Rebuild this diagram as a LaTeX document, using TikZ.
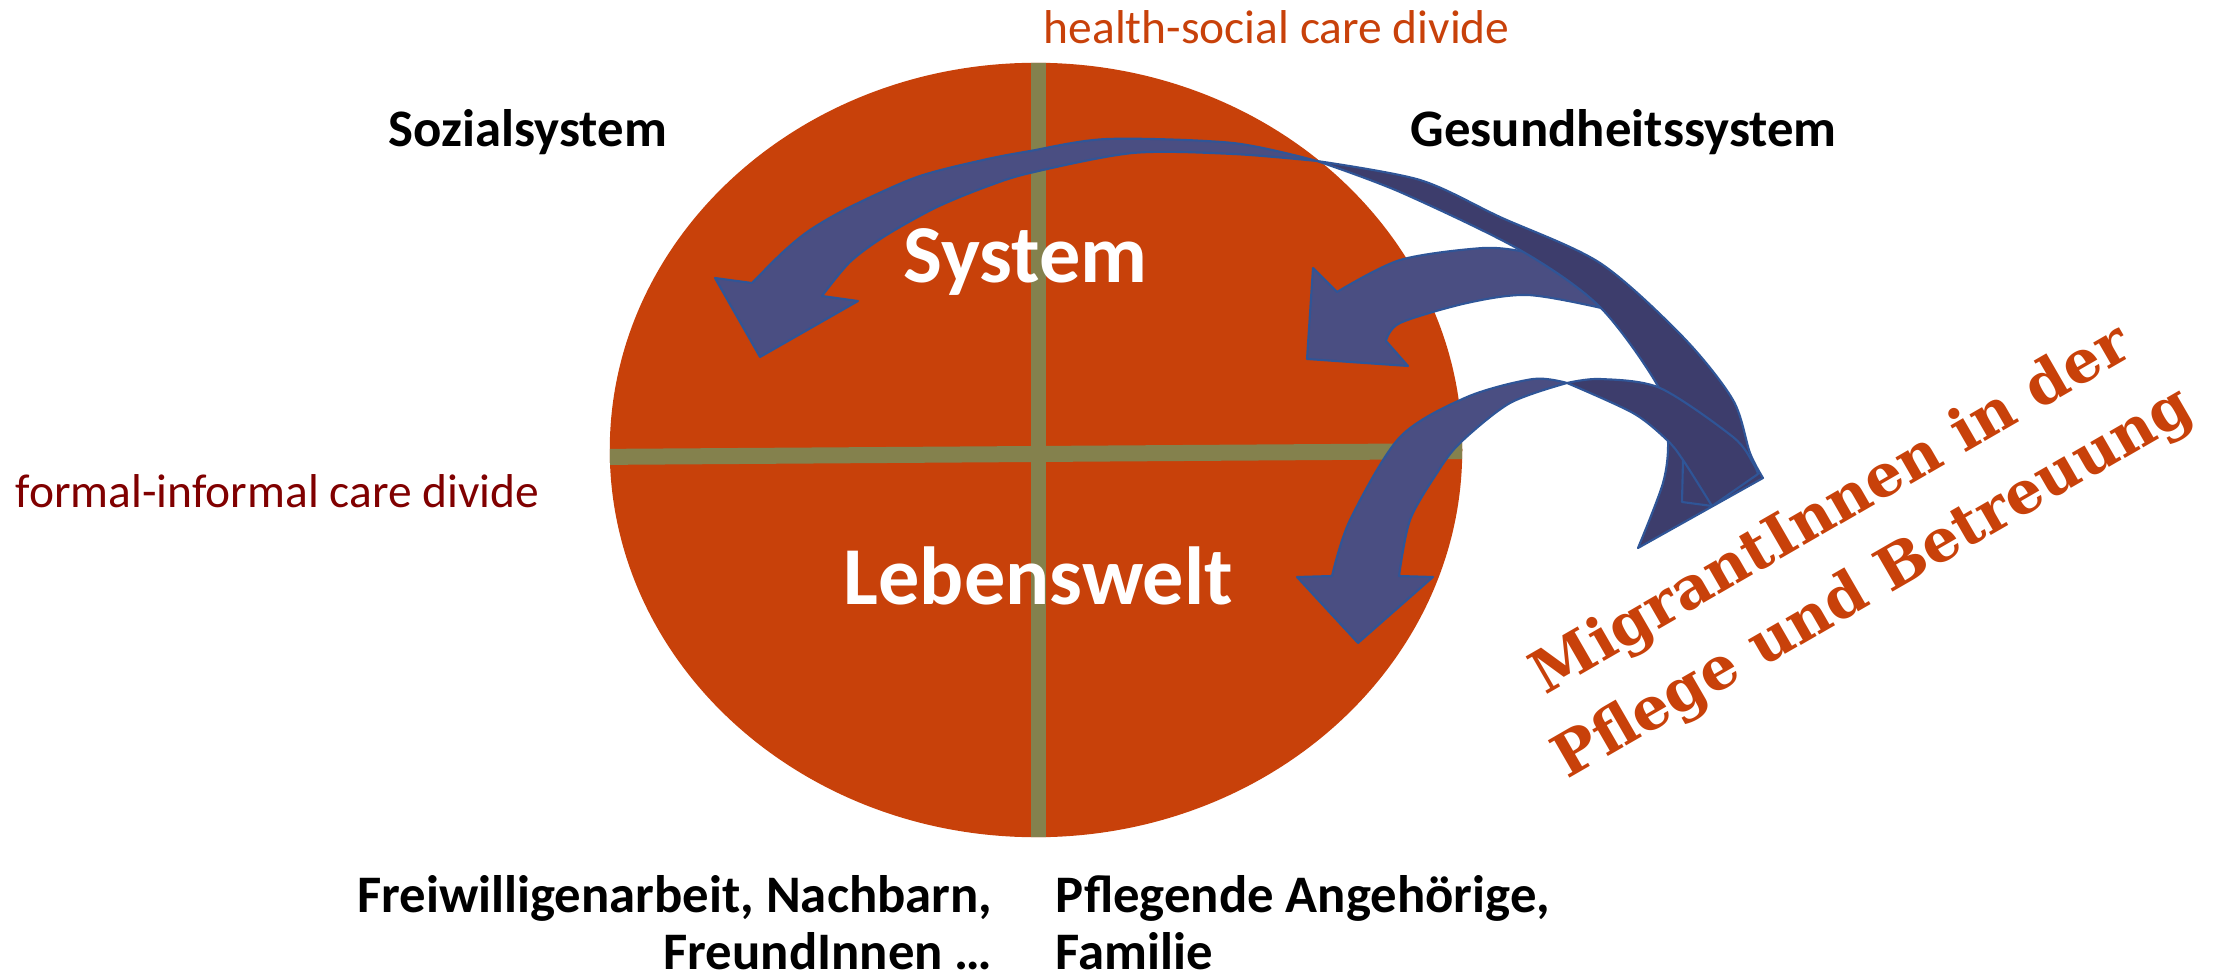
\documentclass[tikz,border=0pt]{standalone}
\usepackage{fontspec}
\newfontfamily\calibri{Carlito}
\newfontfamily\slabserif{DejaVu Serif}
\definecolor{ovalred}{HTML}{C8410A}
\definecolor{divideline}{HTML}{84814D}
\definecolor{arrowfront}{HTML}{4A4E82}
\definecolor{arrowback}{HTML}{3D3D6C}
\definecolor{arrowedge}{HTML}{2F5597}
\definecolor{darkred}{HTML}{800000}
\tikzset{
  sectorlabel/.style={font=\calibri\bfseries\fontsize{15}{16}\selectfont, inner sep=0pt},
  dividelabel/.style={font=\calibri\fontsize{13.5}{15}\selectfont, inner sep=0pt},
  worldlabel/.style={font=\calibri\bfseries\fontsize{23.4}{26}\selectfont, text=white, inner sep=0pt},
  arrowlight/.style={fill=arrowfront, draw=arrowedge, line width=0.6pt, line join=round},
  arrowdark/.style={fill=arrowback, draw=arrowedge, line width=0.6pt, line join=round},
}
\begin{document}
\begin{tikzpicture}[x=0.01cm, y=-0.01cm]
\useasboundingbox (0,0) rectangle (2214,979);
\coordinate (c) at (1036,450);
\fill[ovalred] (c) ellipse [x radius=4.26cm, y radius=3.87cm];
\begin{scope}
\clip (c) ellipse [x radius=4.26cm, y radius=3.87cm];
\draw[divideline, line width=0.15cm] (1038,0) -- (1038,900);
\draw[divideline, line width=0.16cm] (590,457) -- (1480,451);
\end{scope}
% middle arrow, tail runs under the big one
\filldraw[arrowlight] (1337,292) -- (1313,268) -- (1307,359) -- (1408,366) -- (1386,341)
  -- plot[smooth] coordinates {(1386,341) (1400,323) (1467,303) (1527,295) (1597,307) (1612,313)}
  -- (1545,256)
  -- plot[smooth] coordinates {(1545,256) (1527,252) (1483,248) (1400,260) (1337,292)} -- cycle;
% big arrow: front half, then its back half
\filldraw[arrowlight] (752,283) -- (715,278) -- (760,357) -- (858,301) -- (822,296)
  -- plot[smooth] coordinates {(822,296) (850,262) (885,236) (935,208) (983,188) (1030,173) (1133,153) (1233,154) (1317,161)}
  -- plot[smooth] coordinates {(1317,161) (1233,143) (1107,139) (1030,151) (983,160) (917,177) (850,207) (810,230) (783,252) (752,283)} -- cycle;
\filldraw[arrowdark] (1317,161)
  -- plot[smooth] coordinates {(1317,161) (1420,180) (1500,217) (1600,263) (1683,337) (1733,400) (1750,453) (1763,478)}
  -- (1638,548)
  -- plot[smooth] coordinates {(1638,548) (1663,483) (1668,440) (1660,390) (1600,307) (1520,250) (1400,192) (1317,161)} -- cycle;
% lower arrow
\filldraw[arrowlight] (1332,576) -- (1297,577) -- (1358,643) -- (1433,577) -- (1399,576)
  -- plot[smooth] coordinates {(1399,576) (1410,520) (1437,473) (1460,443) (1510,403) (1567,383)}
  -- plot[smooth] coordinates {(1567,383) (1533,379) (1467,397) (1400,437) (1350,520) (1332,576)} -- cycle;
\filldraw[arrowdark] (1567,383)
  -- plot[smooth] coordinates {(1567,383) (1600,379) (1660,388) (1733,437) (1753,463) (1758,474)}
  -- (1712,506)
  -- plot[smooth] coordinates {(1712,506) (1683,460) (1667,440) (1633,413) (1567,383)} -- cycle;
\draw[arrowedge, line width=0.6pt, line join=round] (1683,460) -- (1682,502) -- (1712,506);
% labels
\node[worldlabel, anchor=base west] (system) at (903,283) {System};
\node[worldlabel, anchor=base west] (lebenswelt) at (843,604) {Lebenswelt};
\node[sectorlabel, anchor=base west] (sozial) at (388,147) {Sozialsystem};
\node[sectorlabel, anchor=base west] (gesund) at (1410,147) {Gesundheitssystem};
\node[dividelabel, text=ovalred, anchor=base west] (hsdivide) at (1043,44) {health-social care divide};
\node[dividelabel, text=darkred, anchor=base west] (fidivide) at (15,507) {formal-informal care divide};
\node[sectorlabel, anchor=base east] (freiA) at (993,912) {Freiwilligenarbeit, Nachbarn,};
\node[sectorlabel, anchor=base east] (freiB) at (993,969) {FreundInnen …};
\node[sectorlabel, anchor=base west] (pflegeA) at (1055,912) {Pflegende Angehörige,};
\node[sectorlabel, anchor=base west] (pflegeB) at (1055,969) {Familie};
\node[rotate=30, text=ovalred, font=\slabserif\bfseries\fontsize{16.8}{24}\selectfont, align=center, inner sep=0pt] (migrant) at (1853,548) {MigrantInnen in der\\Pflege und Betreuung};
\end{tikzpicture}
\end{document}
